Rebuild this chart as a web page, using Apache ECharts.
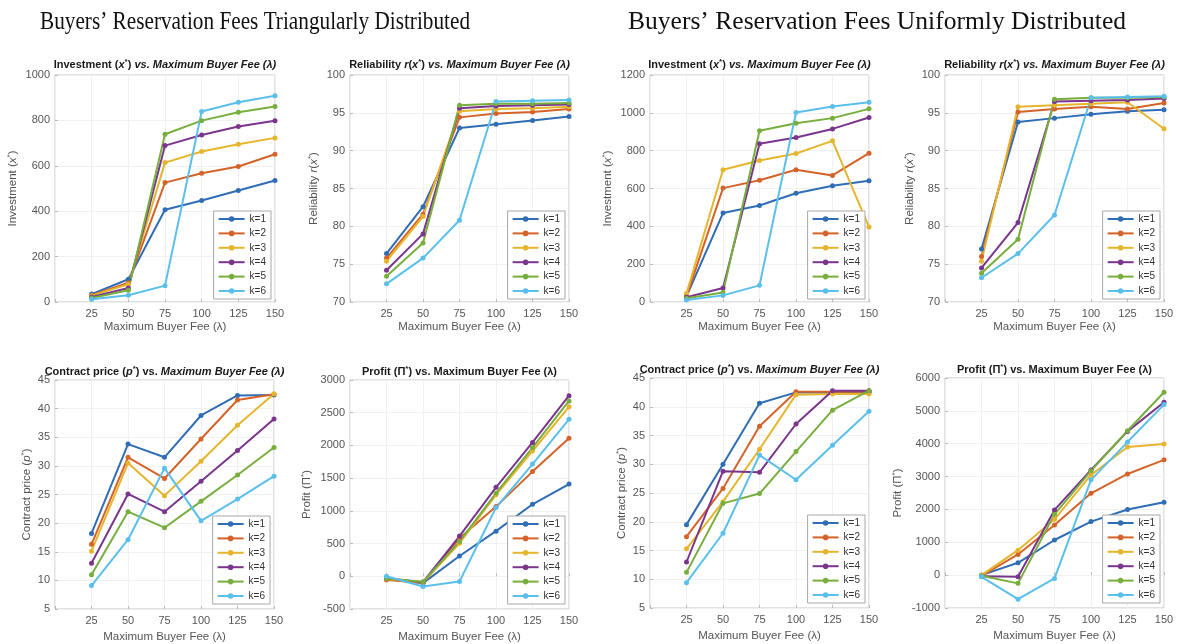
<!DOCTYPE html>
<html><head><meta charset="utf-8">
<script src="https://cdn.jsdelivr.net/npm/echarts@6/dist/echarts.min.js"></script>
<style>html,body{margin:0;padding:0;background:#fff}#c{width:1194px;height:644px}</style>
</head><body><div id="c"></div>
<script>
// ---------- data ----------
const fees = [25, 50, 75, 100, 125, 150];
const kNames = ['k=1', 'k=2', 'k=3', 'k=4', 'k=5', 'k=6'];

const triInvest = [
  [35, 100, 406, 447, 491, 535],
  [30, 85, 526, 567, 597, 651],
  [28, 78, 614, 663, 695, 723],
  [22, 62, 689, 736, 773, 798],
  [18, 52, 739, 799, 836, 861],
  [12, 30, 72, 839, 880, 909]
];
const triRel = [
  [76.4, 82.6, 93.0, 93.5, 94.0, 94.5],
  [75.8, 81.6, 94.4, 94.9, 95.1, 95.5],
  [75.4, 81.3, 95.2, 95.5, 95.6, 95.8],
  [74.2, 79.0, 95.6, 95.9, 96.0, 96.1],
  [73.4, 77.8, 96.0, 96.2, 96.2, 96.3],
  [72.4, 75.8, 80.8, 96.5, 96.6, 96.7]
];
const uniInvest = [
  [30, 470, 510, 575, 614, 641],
  [30, 602, 644, 699, 669, 787],
  [45, 699, 748, 785, 852, 396],
  [25, 74, 836, 870, 915, 975],
  [20, 50, 905, 945, 972, 1021],
  [10, 35, 88, 1002, 1033, 1056]
];
const uniRel = [
  [77.0, 93.8, 94.3, 94.8, 95.2, 95.4],
  [76.0, 95.1, 95.5, 95.8, 95.5, 96.3],
  [75.4, 95.8, 96.0, 96.2, 96.4, 92.9],
  [74.5, 80.5, 96.5, 96.6, 96.7, 96.9],
  [73.8, 78.3, 96.8, 97.0, 97.0, 97.1],
  [73.2, 76.4, 81.5, 97.0, 97.1, 97.2]
];
const triPrice = [
  [18.2, 33.8, 31.5, 38.8, 42.3, 42.4],
  [16.3, 31.5, 27.8, 34.7, 41.5, 42.5],
  [15.1, 30.5, 24.8, 30.8, 37.1, 42.6],
  [13.0, 25.1, 22.0, 27.3, 32.7, 38.2],
  [11.0, 22.0, 19.2, 23.8, 28.4, 33.2],
  [9.1, 17.1, 29.6, 20.4, 24.2, 28.2]
];
const triProfit = [
  [-40, -105, 310, 690, 1100, 1410],
  [-55, -100, 580, 1065, 1600, 2110],
  [-40, -95, 505, 1245, 1915, 2590],
  [-30, -90, 615, 1360, 2045, 2760],
  [-35, -85, 530, 1270, 1965, 2680],
  [0, -155, -80, 1050, 1715, 2400]
];
const uniPrice = [
  [19.5, 30.0, 40.6, 42.5, 42.5, 42.5],
  [17.4, 25.8, 36.6, 42.6, 42.6, 42.6],
  [15.3, 23.5, 32.6, 42.1, 42.2, 42.2],
  [13.0, 28.8, 28.6, 37.0, 42.8, 42.8],
  [11.2, 23.2, 24.9, 32.2, 39.4, 42.8],
  [9.4, 18.0, 31.6, 27.3, 33.3, 39.2]
];
const uniProfit = [
  [0, 375, 1070, 1630, 2000, 2220],
  [-20, 630, 1525, 2490, 3080, 3510],
  [0, 760, 1700, 3050, 3900, 3990],
  [-30, -50, 1985, 3200, 4375, 5260],
  [-20, -250, 1850, 3175, 4395, 5565],
  [-50, -730, -100, 2900, 4050, 5190]
];

const mainTitleLeft = "Buyers\u2019 Reservation Fees Triangularly Distributed";
const mainTitleRight = "Buyers\u2019 Reservation Fees Uniformly Distributed";
const xName = 'Maximum Buyer Fee (\u03bb)';

// ---------- styling / layout ----------
const colors = ['#2F6DB5', '#D4632A', '#E6B52E', '#7A358C', '#78AE3E', '#5BBFEC'];
const SANS = '"Liberation Sans", Arial, sans-serif';

const titleInv = '{b|Investment (}{bi|x}{sup|*}{b|) }{bi|vs. Maximum Buyer Fee (\u03bb)}';
const titleRel = '{b|Reliability }{bi|r}{b|(}{bi|x}{sup|*}{b|) }{bi|vs. Maximum Buyer Fee (\u03bb)}';
const titlePrice = '{b|Contract price (}{bi|p}{sup|*}{b|) vs. }{bi|Maximum Buyer Fee (\u03bb)}';
const titleProfit = '{b|Profit (\u03a0}{sup|*}{b|) vs. Maximum Buyer Fee (\u03bb)}';

const yInv = '{n|Investment (}{i|x}{s|*}{n|)}';
const yRel = '{n|Reliability }{i|r}{n|(}{i|x}{s|*}{n|)}';
const yPrice = '{n|Contract price (}{i|p}{s|*}{n|)}';
const yProfit = '{n|Profit (\u03a0}{s|*}{n|)}';

const panels = [
  {data: triInvest, l: 55, t: 75, w: 220, h: 227, min: 0, max: 1000, step: 200, title: titleInv, yname: yInv, ng: 36, tt: 58},
  {data: triRel, l: 350, t: 75, w: 219, h: 227, min: 70, max: 100, step: 5, title: titleRel, yname: yRel, ng: 30, tt: 58},
  {data: uniInvest, l: 650, t: 75, w: 219, h: 227, min: 0, max: 1200, step: 200, title: titleInv, yname: yInv, ng: 36, tt: 58},
  {data: uniRel, l: 945, t: 75, w: 219, h: 227, min: 70, max: 100, step: 5, title: titleRel, yname: yRel, ng: 29, tt: 58},
  {data: triPrice, l: 55, t: 380, w: 219, h: 229, min: 5, max: 45, step: 5, title: titlePrice, yname: yPrice, ng: 22, tt: 365},
  {data: triProfit, l: 350, t: 380, w: 219, h: 229, min: -500, max: 3000, step: 500, title: titleProfit, yname: yProfit, ng: 37, tt: 365},
  {data: uniPrice, l: 650, t: 378, w: 219, h: 230, min: 5, max: 45, step: 5, title: titlePrice, yname: yPrice, ng: 22, tt: 363},
  {data: uniProfit, l: 945, t: 378, w: 219, h: 230, min: -1000, max: 6000, step: 1000, title: titleProfit, yname: yProfit, ng: 41, tt: 363}
];

const titleRich = {
  b: {fontFamily: SANS, fontWeight: 'bold', fontSize: 11, color: '#1a1a1a'},
  bi: {fontFamily: SANS, fontWeight: 'bold', fontStyle: 'italic', fontSize: 11, color: '#1a1a1a'},
  sup: {fontFamily: SANS, fontWeight: 'bold', fontSize: 8, color: '#1a1a1a', verticalAlign: 'top', padding: [0, 0, 5, 0]}
};
const nameRich = {
  n: {fontFamily: SANS, fontSize: 11.5, color: '#555'},
  i: {fontFamily: SANS, fontSize: 11.5, fontStyle: 'italic', color: '#555'},
  s: {fontFamily: SANS, fontSize: 8, color: '#555', padding: [0, 0, 5, 0]}
};

function measure(text, font) {
  const ctx = document.createElement('canvas').getContext('2d');
  ctx.font = font;
  return ctx.measureText(text).width;
}
const mtFont = '25px "Liberation Serif", "Times New Roman", serif';
const sL = 430 / measure(mainTitleLeft, mtFont);
const sR = 498 / measure(mainTitleRight, mtFont);

const grid = [], xAxis = [], yAxis = [], series = [], title = [], legend = [];
panels.forEach((p, i) => {
  grid.push({left: p.l, top: p.t, width: p.w, height: p.h, show: true, borderColor: '#c4c4c4', borderWidth: 1, backgroundColor: 'transparent'});
  xAxis.push({
    type: 'value', gridIndex: i, min: 0, max: 150, interval: 25,
    name: xName, nameLocation: 'middle', nameGap: i < 4 ? 19 : 22,
    nameTextStyle: {fontFamily: SANS, fontSize: 11.5, color: '#555'},
    axisLine: {show: false},
    axisTick: {show: true, inside: true, length: 3, lineStyle: {color: '#bbb'}},
    axisLabel: {fontFamily: SANS, fontSize: 11, color: '#555', margin: 6, formatter: v => v === 0 ? '' : String(v)},
    splitLine: {show: true, lineStyle: {color: '#f0f0f0', width: 1}}
  });
  yAxis.push({
    type: 'value', gridIndex: i, min: p.min, max: p.max, interval: p.step,
    name: p.yname, nameLocation: 'middle', nameGap: p.ng, nameRotate: 90,
    nameTextStyle: {rich: nameRich},
    axisLine: {show: false},
    axisTick: {show: true, inside: true, length: 3, lineStyle: {color: '#bbb'}},
    axisLabel: {fontFamily: SANS, fontSize: 11, color: '#555', margin: 5, formatter: v => String(v)},
    splitLine: {show: true, lineStyle: {color: '#f0f0f0', width: 1}}
  });
  title.push({
    text: p.title, left: p.l + p.w / 2, top: p.tt, textAlign: 'center', padding: 0,
    textStyle: {rich: titleRich}
  });
  legend.push({
    data: kNames, orient: 'vertical', selectedMode: false,
    right: 1194 - (p.l + p.w) + 4, bottom: 644 - (p.t + p.h) + (i < 4 ? 3 : 5),
    itemWidth: 26, itemHeight: 7, itemGap: 4.4,
    padding: [3, 5, 3, 4], borderColor: '#a8a8a8', borderWidth: 1, borderRadius: 0,
    backgroundColor: '#fff',
    textStyle: {fontFamily: SANS, fontSize: 10, color: '#333', lineHeight: 10}
  });
  p.data.forEach((row, k) => {
    series.push({
      type: 'line', name: kNames[k], xAxisIndex: i, yAxisIndex: i,
      data: fees.map((f, j) => [f, row[j]]),
      symbol: 'circle', symbolSize: 5, showSymbol: true,
      lineStyle: {width: 2, color: colors[k]},
      itemStyle: {color: colors[k]},
      animation: false, silent: true
    });
  });
});

const chart = echarts.init(document.getElementById('c'), null, {renderer: 'canvas'});
chart.setOption({
  animation: false,
  color: colors,
  grid, xAxis, yAxis, series, title, legend,
  graphic: [
    {type: 'text', x: 255, y: 22, scaleX: sL, style: {text: mainTitleLeft, font: mtFont, fill: '#111', textAlign: 'center', textVerticalAlign: 'middle', align: 'center', verticalAlign: 'middle'}},
    {type: 'text', x: 877, y: 22, scaleX: sR, style: {text: mainTitleRight, font: mtFont, fill: '#111', textAlign: 'center', textVerticalAlign: 'middle', align: 'center', verticalAlign: 'middle'}}
  ]
});
</script>
</body></html>
